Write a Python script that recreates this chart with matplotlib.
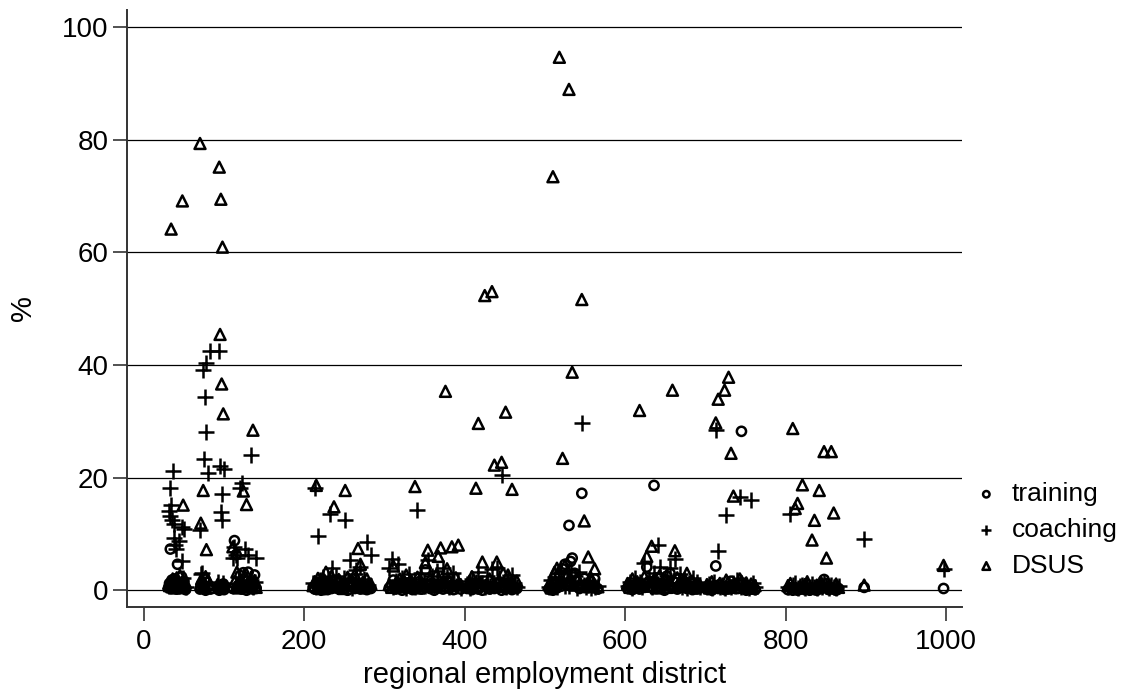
import matplotlib.pyplot as plt

plt.rcParams['font.family'] = ['Liberation Sans', 'DejaVu Sans']

# regional employment district codes
district = [31, 32, 33, 34, 35, 36, 37, 38, 39, 40, 41, 42, 44, 45, 47, 48, 49, 50, 52,
            70, 71, 72, 74, 75, 76, 77, 78, 80, 83,
            92, 94, 95, 96, 97, 98, 99, 100,
            111, 113, 115, 116, 118, 120, 122, 124, 126, 128, 130, 133, 134, 136, 138, 140,
            211, 213, 215, 217, 219, 221, 223, 225, 227, 229, 232, 234, 237, 240, 243, 246,
            249, 251, 254, 257, 260, 263, 265, 267, 270, 273, 275, 278, 280, 283,
            306, 309, 311, 314, 317, 319, 322, 325, 327, 330, 333, 335, 338, 341, 343, 346,
            349, 351, 354, 357, 359, 362, 365, 367, 370, 373, 376, 378, 381, 384, 386, 389,
            392, 395,
            403, 406, 409, 411, 414, 417, 419, 422, 425, 428, 431, 434, 437, 440, 443, 446,
            448, 451, 454, 457, 459, 462, 465,
            505, 508, 510, 512, 515, 518, 520, 522, 525, 527, 530, 532, 534, 537, 540, 543,
            546, 549, 551, 554, 557, 560, 562, 566,
            603, 606, 609, 612, 615, 618, 621, 624, 627, 630, 633, 636, 639, 641, 643, 646,
            649, 652, 656, 659, 662, 665, 668, 671, 674, 677, 680, 684, 687, 690, 693,
            702, 705, 708, 711, 713, 716, 718, 721, 724, 726, 729, 732, 735, 737, 740, 743,
            745, 748, 751, 754, 757, 759, 762,
            803, 806, 809, 812, 815, 818, 821, 824, 827, 830, 833, 836, 839, 842, 845, 848,
            851, 854, 857, 860, 863, 866,
            898, 997]

training = [0.5, 1.2, 7.3, 0.3, 1.8, 0.8, 1.0, 2.0, 0.6, 1.5, 0.2, 4.6, 0.9, 1.3, 2.4, 0.7, 0.4, 1.6, 0.1,
            0.2, 0.5, 1.1, 0.3, 0.8, 2.0, 0.0, 1.4, 0.6, 0.2,
            0.4, 0.0, 0.3, 0.8, 0.2, 0.5, 1.1, 0.1,
            0.3, 8.8, 6.3, 0.5, 0.9, 2.6, 0.2, 3.1, 0.6, 0.0, 3.2, 1.5, 0.4, 0.2, 2.7, 0.3,
            0.5, 0.2, 1.0, 0.3, 1.2, 0.0, 0.7, 0.4, 1.5, 0.1, 0.9, 0.3, 0.6, 1.8, 0.2, 0.5,
            1.1, 0.4, 0.0, 0.8, 1.4, 0.3, 0.6, 0.9, 0.2, 1.0, 0.5, 0.1, 0.7, 0.3,
            0.4, 0.9, 1.8, 0.2, 0.6, 1.1, 0.0, 0.7, 0.3, 1.3, 0.5, 0.1, 0.8, 0.4, 1.5, 0.2,
            0.6, 3.6, 0.9, 0.3, 1.2, 0.0, 0.7, 0.4, 1.0, 0.2, 0.5, 1.6, 0.3, 0.8, 0.1, 0.6,
            0.9, 0.2,
            0.3, 0.8, 0.1, 0.5, 1.0, 0.2, 0.6, 0.0, 0.9, 0.4, 0.2, 0.7, 0.3, 1.1, 0.5, 0.0,
            0.6, 0.2, 0.8, 0.4, 0.1, 0.5, 0.3,
            0.2, 0.5, 0.0, 1.1, 0.4, 2.6, 0.7, 3.8, 4.6, 0.9, 11.5, 5.1, 5.7, 3.0, 1.6, 0.3,
            17.2, 2.1, 1.0, 0.4, 1.5, 0.6, 2.0, 0.2,
            0.3, 0.6, 0.1, 1.0, 0.4, 0.2, 0.8, 0.5, 4.1, 1.6, 0.7, 18.6, 0.3, 2.2, 0.6, 1.2,
            0.0, 2.5, 3.0, 0.4, 1.4, 0.2, 0.9, 0.5, 1.1, 0.3, 0.7, 0.1, 0.6, 0.2, 0.4,
            0.2, 0.5, 0.0, 0.8, 4.3, 0.3, 1.0, 0.4, 0.1, 0.7, 0.2, 1.6, 0.5, 0.9, 0.3, 1.2,
            28.2, 0.4, 0.0, 0.6, 0.2, 0.5, 0.1,
            0.1, 0.4, 0.0, 0.3, 0.0, 0.2, 0.5, 0.1, 0.3, 0.0, 0.4, 0.2, 0.0, 0.6, 0.3, 1.9,
            1.2, 0.1, 0.4, 0.2, 0.0, 0.3,
            0.5, 0.3]

coaching = [14.0, 18.1, 13.2, 15.1, 12.5, 21.2, 11.8, 9.2, 8.1, 7.3, 1.6, 1.0, 8.7, 0.8, 5.1, 11.3, 2.2, 10.8, 0.5,
            10.6, 2.8, 3.1, 39.0, 23.3, 34.3, 40.4, 28.1, 20.8, 42.4,
            1.5, 42.4, 22.0, 13.9, 12.5, 17.1, 1.2, 21.6,
            5.8, 7.6, 6.2, 5.8, 1.1, 18.2, 19.0, 0.9, 7.4, 0.7, 6.2, 24.0, 1.8, 0.6, 1.4, 5.7,
            1.2, 18.1, 0.6, 9.7, 1.8, 0.9, 2.4, 0.5, 1.3, 2.0, 13.5, 3.9, 1.0, 2.6, 1.5, 0.8,
            2.2, 12.4, 1.7, 5.3, 0.4, 2.9, 3.5, 1.1, 4.2, 0.7, 1.9, 8.6, 1.0, 6.2,
            3.9, 5.6, 0.6, 1.7, 4.6, 0.9, 2.2, 1.0, 0.4, 2.8, 1.3, 0.8, 0.5, 14.2, 2.0, 3.1,
            1.6, 0.7, 5.4, 1.0, 2.5, 0.6, 3.4, 1.8, 0.9, 4.0, 1.2, 2.4, 0.5, 1.4, 3.0, 0.8,
            1.7, 0.4,
            1.1, 0.4, 2.0, 0.9, 1.5, 3.2, 0.7, 1.3, 0.5, 2.6, 0.8, 3.8, 1.0, 4.0, 2.2, 20.4,
            1.4, 0.6, 1.9, 0.9, 2.7, 1.2, 0.5,
            0.6, 1.8, 0.9, 2.4, 0.5, 1.2, 3.0, 1.6, 0.8, 2.1, 0.7, 3.5, 1.4, 2.6, 0.4, 3.3,
            29.6, 1.0, 0.6, 1.7, 0.3, 0.9, 0.5, 0.8,
            0.8, 1.5, 0.4, 2.2, 0.9, 1.4, 0.6, 4.8, 1.2, 2.0, 0.5, 3.0, 1.0, 8.1, 4.1, 1.6,
            0.7, 2.5, 3.9, 1.1, 5.6, 0.9, 2.8, 0.6, 1.7, 0.4, 1.3, 2.1, 0.8, 1.4, 0.5,
            0.5, 1.1, 0.3, 1.4, 28.4, 6.9, 0.6, 1.0, 0.4, 13.3, 0.9, 0.5, 1.3, 0.7, 1.8, 16.5,
            0.6, 1.0, 0.8, 0.4, 16.0, 1.2, 0.6,
            0.5, 13.6, 0.9, 1.2, 0.4, 0.7, 1.0, 0.3, 0.8, 0.5, 1.1, 0.6, 0.4, 0.9, 0.5, 1.3,
            0.7, 0.4, 1.0, 0.6, 0.3, 0.8,
            9.0, 3.8]

dsus = [1.2, 0.8, 1.5, 64.1, 0.6, 2.0, 1.4, 0.4, 1.1, 0.9, 2.2, 1.7, 0.5, 2.6, 1.0, 69.1, 15.1, 0.7, 1.3,
        79.3, 11.9, 2.0, 17.7, 1.2, 0.9, 2.4, 7.2, 1.8, 0.5,
        1.0, 75.1, 45.4, 69.4, 36.6, 60.9, 31.3, 0.8,
        7.7, 1.5, 0.6, 3.2, 0.4, 1.9, 1.0, 17.6, 2.5, 15.2, 0.6, 1.3, 0.9, 28.4, 1.7, 0.5,
        0.8, 1.5, 18.6, 2.1, 0.4, 1.3, 0.9, 1.8, 3.2, 0.6, 1.1, 2.5, 14.8, 0.7, 1.9, 1.2,
        0.3, 17.7, 2.3, 0.9, 1.6, 2.8, 1.0, 7.4, 4.6, 1.4, 0.5, 2.0, 0.8, 1.1,
        1.0, 0.5, 4.3, 1.2, 0.9, 2.0, 0.6, 1.5, 2.7, 0.8, 1.7, 1.0, 18.4, 2.3, 0.4, 1.3,
        0.9, 4.9, 7.1, 2.1, 0.7, 1.1, 2.8, 6.0, 7.5, 1.4, 35.3, 3.8, 1.6, 7.7, 0.9, 2.2,
        8.0, 1.0,
        0.8, 1.6, 2.4, 0.6, 18.1, 29.6, 1.4, 5.0, 52.3, 1.1, 2.0, 53.0, 22.2, 5.0, 1.8, 22.7,
        3.0, 31.6, 2.7, 1.2, 17.9, 0.9, 1.6,
        1.0, 0.4, 73.4, 3.2, 3.9, 94.6, 1.5, 23.4, 4.4, 2.5, 88.9, 1.2, 38.7, 0.9, 2.0, 1.1,
        51.6, 12.3, 0.7, 5.9, 2.3, 1.0, 3.8, 0.6,
        1.2, 0.5, 2.0, 0.8, 1.5, 31.9, 1.0, 2.4, 6.0, 0.7, 7.8, 1.9, 0.4, 1.3, 2.6, 0.9,
        1.8, 0.5, 1.1, 35.5, 7.0, 2.2, 1.4, 0.8, 2.0, 3.0, 1.0, 1.6, 0.6, 1.2, 0.9,
        1.0, 0.4, 1.5, 0.7, 29.7, 33.9, 1.2, 0.8, 35.5, 1.8, 37.8, 24.3, 16.7, 1.0, 0.5, 2.0,
        1.6, 0.9, 1.3, 0.6, 1.1, 0.4, 0.8,
        0.8, 1.2, 28.7, 14.5, 15.4, 0.6, 18.7, 1.0, 1.5, 0.4, 8.9, 12.4, 0.9, 17.7, 1.2, 24.6,
        5.7, 0.7, 24.6, 13.7, 1.1, 0.5,
        0.9, 4.4]

fig = plt.figure(figsize=(11.31, 6.97), dpi=100)
ax = fig.add_axes([0.1123, 0.129, 0.7383, 0.8567])

ax.scatter(district, training, s=44, marker='o', facecolors='none', edgecolors='black',
           linewidths=1.8, label='training', zorder=3)
ax.scatter(district, coaching, s=120, marker='+', color='black',
           linewidths=1.8, label='coaching', zorder=3)
ax.scatter(district, dsus, s=62, marker='^', facecolors='none', edgecolors='black',
           linewidths=1.8, label='DSUS', zorder=3)

ax.set_xlim(-21, 1020)
ax.set_ylim(-3, 103)
ax.set_xticks([0, 200, 400, 600, 800, 1000])
ax.set_yticks([0, 20, 40, 60, 80, 100])
ax.yaxis.grid(True, color='black', linewidth=0.9)
ax.set_axisbelow(True)

for side in ['top', 'right']:
    ax.spines[side].set_visible(False)
for side in ['left', 'bottom']:
    ax.spines[side].set_color('#333333')
    ax.spines[side].set_linewidth(1.4)

ax.tick_params(axis='both', labelsize=20, length=10, width=1.2, color='#333333')
ax.tick_params(axis='x', pad=6)
ax.set_xlabel('regional employment district', fontsize=21, labelpad=4)
ax.set_ylabel('%', fontsize=21, labelpad=18)

leg = ax.legend(loc='center left', bbox_to_anchor=(0.988, 0.129), frameon=False,
                fontsize=19, handlelength=0.8, handletextpad=0.55, labelspacing=0.45,
                markerscale=0.7)

fig.savefig('out.png', dpi=100)
